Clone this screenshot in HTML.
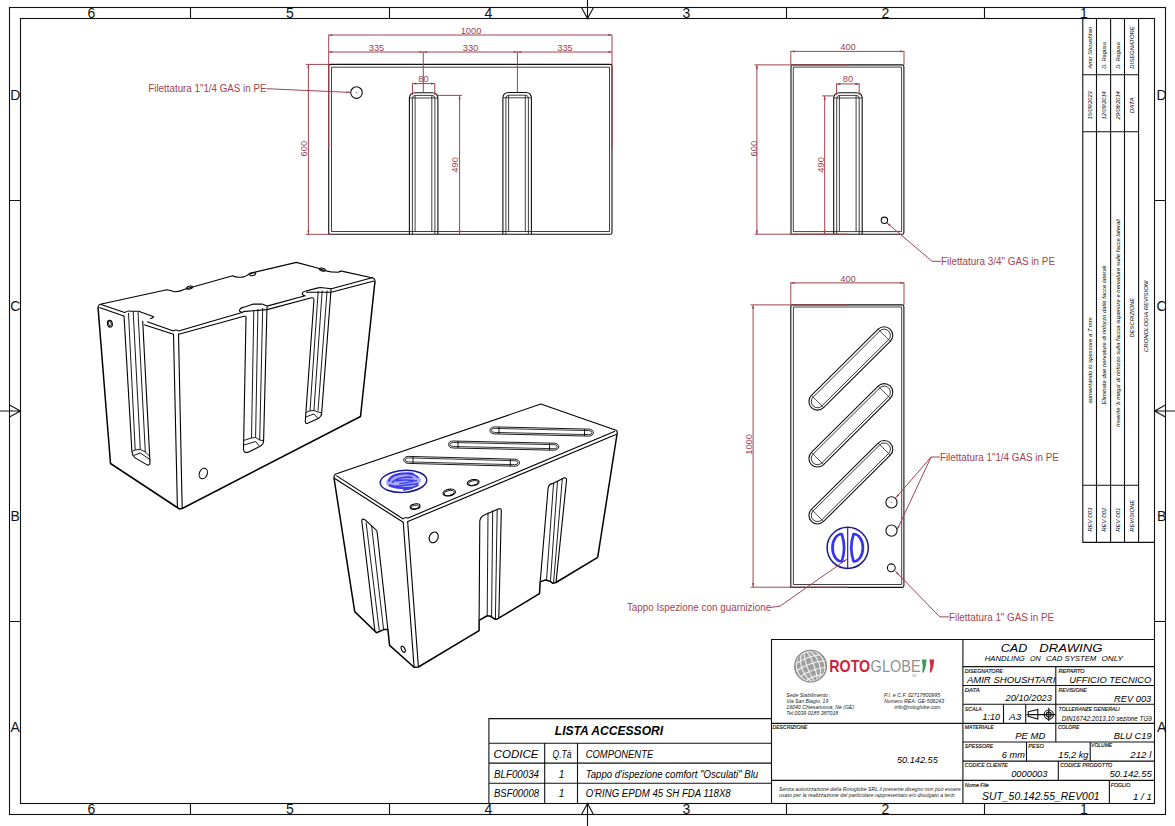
<!DOCTYPE html>
<html><head><meta charset="utf-8">
<style>
html,body{margin:0;padding:0;background:#fff;width:1175px;height:826px;overflow:hidden}
svg{display:block;font-family:"Liberation Sans",sans-serif}
.k{stroke:#111;fill:none;stroke-width:1.1}
.kt{stroke:#111;fill:none;stroke-width:0.8}
.r{stroke:#a0434f;fill:none;stroke-width:1}
.rt{fill:#a0434f;font-size:9.3px}
.zt{fill:#111;font-size:14px}
.it{font-style:italic;fill:#000}
.lb{font-style:italic;fill:#111;font-size:5.2px;stroke:#111;stroke-width:0.15}
</style></head><body>
<svg width="1175" height="826" viewBox="0 0 1175 826">
<!-- FRAME -->
<g id="frame" class="k" stroke-width="1.2">
<rect x="9.5" y="7.5" width="1156" height="807"/>
<rect x="20.5" y="18.5" width="1134" height="785"/>
<path d="M190.5 7.5V18.5M389.5 7.5V18.5M786.5 7.5V18.5M984.5 7.5V18.5"/>
<path d="M190.5 803.5V814.5M389.5 803.5V814.5M786.5 803.5V814.5M984.5 803.5V814.5"/>
<path d="M9.5 200.5H20.5M9.5 621.5H20.5M1154.5 200.5H1165.5M1154.5 621.5H1165.5"/>
<!-- centre arrows -->
<path d="M587.5 0V18.5M581.5 7.5L587.5 18.5L593.5 7.5"/>
<path d="M587.5 826V803.5M581.5 814.5L587.5 803.5L593.5 814.5"/>
<path d="M0 411H20.5M9.5 405L20.5 411L9.5 417"/>
<path d="M1175 411H1154.5M1165.5 405L1154.5 411L1165.5 417"/>
</g>
<g class="zt" text-anchor="middle">
<text x="91.5" y="17.5">6</text><text x="290" y="17.5">5</text><text x="488.5" y="17.5">4</text>
<text x="686.5" y="17.5">3</text><text x="885.5" y="17.5">2</text><text x="1084" y="17.5">1</text>
<text x="91.5" y="814.3">6</text><text x="290" y="814.3">5</text><text x="488.5" y="814.3">4</text>
<text x="686.5" y="814.3">3</text><text x="885.5" y="814.3">2</text><text x="1084" y="814.3">1</text>
<text x="15.2" y="100">D</text><text x="15.2" y="311">C</text><text x="15.2" y="521">B</text><text x="15.2" y="732">A</text>
<text x="1161.6" y="100">D</text><text x="1161.6" y="311">C</text><text x="1161.6" y="521">B</text><text x="1161.6" y="732">A</text>
</g>
<!-- FRONT VIEW -->
<defs>
<g id="vslot" class="k">
<path d="M0 141.8V6Q0 0.3 6 0.3H22.5Q28.5 0.3 28.5 6V141.8"/>
<path d="M3 141.8V6Q3 3 6 3H22.5Q25.5 3 25.5 6V141.8" stroke-width="0.8"/>
<path d="M5.7 3V139M22.4 3V139M0 5.6H28.5" stroke-width="0.8"/>
</g>
<path id="ah" d="M0 0L3.8 -1.1L3.8 1.1Z"/>
</defs>
<g id="front">
<path class="k" d="M328.7 234.3V66.2Q328.7 64.4 330.5 64.4H610.2Q612 64.4 612 66.2V232.5Q612 234.3 610.2 234.3Z"/>
<path class="kt" d="M331.5 231.5V67.2H609.5V231.5Z"/>
<use href="#vslot" x="409.4" y="92.4"/>
<use href="#vslot" x="502.9" y="92.2"/>
<circle class="k" cx="356.5" cy="92.6" r="5.8"/>
<circle cx="356.5" cy="92.6" r="0.5" fill="#333"/>
</g>
<g id="side">
<path class="k" d="M791 234.2V66.7Q791 64.9 792.8 64.9H902.1Q903.9 64.9 903.9 66.7V232.4Q903.9 234.2 902.1 234.2Z"/>
<path class="kt" d="M793.3 231.6V67.1H901.6V231.6Z"/>
<use href="#vslot" x="833.7" y="92.4"/>
<circle class="k" cx="884.4" cy="220.3" r="3.2"/>
</g>
<defs>
<g id="dslot" class="k" stroke-width="0.9">
<path d="M-47 -8.6H47A8.6 8.6 0 0 1 47 8.6H-47A8.6 8.6 0 0 1 -47 -8.6Z"/>
<path d="M-47 -6.2H47A6.2 6.2 0 0 1 47 6.2H-47A6.2 6.2 0 0 1 -47 -6.2Z" stroke-width="0.8"/>
<path d="M-47 -8.6V8.6M47 -8.6V8.6" stroke-width="0.7"/>
</g>
</defs>
<g id="topview">
<path class="k" d="M790.8 587.4V306.7Q790.8 304.9 792.6 304.9H902.1Q903.9 304.9 903.9 306.7V585.6Q903.9 587.4 902.1 587.4Z"/>
<path class="kt" d="M793.4 584.5V307H901.7V584.5Z"/>
<use href="#dslot" transform="translate(850.85 368.45) rotate(-44.8)"/>
<use href="#dslot" transform="translate(850.85 425.35) rotate(-44.8)"/>
<use href="#dslot" transform="translate(850.85 482.25) rotate(-44.8)"/>
<circle class="k" cx="891.5" cy="502.4" r="5.6"/>
<circle cx="891.5" cy="502.4" r="0.5" fill="#333"/>
<circle class="k" cx="891.5" cy="530.6" r="5.6"/>
<circle class="k" cx="891.3" cy="567.8" r="3.9"/>
<circle cx="847.7" cy="547.8" r="20.6" fill="none" stroke="#1b1b8f" stroke-width="1.5"/>
<path d="M847.7 527.2V568.4" stroke="#1b1b8f" stroke-width="1.1"/>
<path d="M841.8 534A9.3 13.7 0 0 0 841.8 561.4Q846.4 547.7 841.8 534Z M853.6 534A9.3 13.7 0 0 1 853.6 561.4Q849 547.7 853.6 534Z" fill="none" stroke="#3535ec" stroke-width="2.7" stroke-linejoin="round"/>
</g>
<!-- ISO BOX 1 -->
<g id="iso1" class="k" style="stroke-width:1.1;stroke:#000" stroke-linejoin="round">
<path d="M98 307Q98.5 304.5 100.3 304.2L166.8 289.7Q170 290 174.3 291.7Q179 292 184.6 289.2L232.8 275.7Q235 277.5 241 277.2Q246 277 249.7 273.4L296.4 262.4L319.4 268.5Q325 271.5 330.8 271.9L338.5 272.2Q340 271 341.6 271.1L373 278Q375 278.8 375 281"/>
<ellipse cx="189.5" cy="287.6" rx="3" ry="1.4" transform="rotate(-14 189.5 287.6)"/>
<ellipse cx="252.7" cy="274.2" rx="3" ry="1.4" transform="rotate(-14 252.7 274.2)"/>
<ellipse cx="322.4" cy="269.6" rx="3" ry="1.4" transform="rotate(12 322.4 269.6)"/>
<path style="stroke-width:1.5" d="M375 281L360.5 416.5L182.2 508.5"/>
<path style="stroke-width:1.5" d="M98 307L110.5 463.5L179.5 509L182.2 508.5"/>
<path d="M173.5 334L177.4 507M178.5 333.5L182.2 508.5M173.5 331Q176 329 178.5 331"/>
<!-- left face top edge -->
<path d="M100.3 304.2L124.6 312.6Q127 310.5 131.2 311.2L138.7 311.2L153.7 316.8Q153 318.5 149.9 318.7"/>
<path d="M99.4 307.5L123.7 315.9"/>
<path d="M147.2 321.7L173.5 331M144.1 324.7L173.5 334.3"/>
<!-- front right top edge -->
<path d="M178.5 331L242.8 312.2Q238.5 311.8 239.8 309.5Q240.8 307.9 243 307.4L253.4 304.1H262L267 306.1L305.1 295.7Q301.5 295 302.5 292.8Q303.5 291.2 306 291L317 288.1L320.3 287.5L331.4 288.7L373 277.5"/>
<path d="M178.8 334.3L244 316.3Q246.5 316 246 318.5M243 311.6L267 309.6L311.5 297.8Q313.8 297.6 314 299.5M306 292.2L331.2 292.3L374 281"/>
<!-- slot 1 (left face) -->
<path d="M124 315.5L131.9 451.3Q132.5 456.5 135.5 458.1L147.1 464.9Q150 465.5 150 462.4L142.7 321"/>
<path d="M128.5 313L135.2 450M133.2 311.5L140.3 449.5M138 312L145.3 452M132 451.5L135.2 450L140.3 449.5L145.3 452L149.6 456M133.5 455.5L140.3 453L149.8 459.5" stroke-width="0.9"/>
<!-- slot 2 -->
<path d="M246 318L243.5 449.5Q244 453 247.6 452.4L259.7 446.6Q263.6 444.5 263.6 440.8L267 306.8"/>
<path d="M253.8 310L251.5 438M257.9 309L255.6 437.5M262.7 308L259.7 440M244.2 440.3L251.5 438L255.6 437.5L259.7 440L263.6 440.8M243.9 445L255.6 441.5L259.7 446.6" stroke-width="0.9"/>
<!-- slot 3 -->
<path d="M314 299.5L305.3 421Q305.5 424 307.2 423.4L318.3 418.6Q321.7 416 321.7 412.8L331.1 288.6"/>
<path d="M318.2 291L310 410.8M322.2 290.5L313.9 410.8M327.1 290.5L318 410.8M306 412.5L310 410.8L313.9 410.5L318 412L321.7 412.8M305.7 417L313.9 414L318.3 418.6" stroke-width="0.9"/>
<ellipse cx="109.9" cy="323.7" rx="2.4" ry="3.4" transform="rotate(-10 109.9 323.7)"/>
<ellipse cx="109.9" cy="323.7" rx="1.3" ry="2.3" transform="rotate(-10 109.9 323.7)" stroke-width="0.8"/>
<ellipse cx="203.3" cy="473.5" rx="3.9" ry="5.4" transform="rotate(22 203.3 473.5)"/>
</g>
<!-- ISO BOX 2 -->
<g id="iso2" class="k" style="stroke-width:1.1;stroke:#000" stroke-linejoin="round">
<path d="M334 478Q333.8 474.5 336.5 473.8L540.8 404.1L616 430.2Q617.5 431 617.2 433"/>
<path d="M336.3 475.6L403.2 519M334 478L403.2 522.3M403.2 519Q405.5 516.5 407.6 518.2"/>
<path d="M407.6 518.2L615 431.2M407.8 521.6L616 434.5"/>
<path style="stroke-width:1.5" d="M617.2 433L597.7 557.3"/>
<path style="stroke-width:1.5" d="M334 478L354.7 611.6L376.5 632.8L383.6 629.6L387.9 629.6L389.6 645.4L414.1 667.2L418.4 667L479.1 630.7L479.1 620.3L486.7 616L490 616L494.9 619.2L497 619.2L539.5 593.6L540.2 581.7L545 580.1L549.7 580.9L552.8 583.3L556 582.5L597.7 557.3"/>
<path d="M403.2 522L414.1 667.2M407.6 521L418.4 667"/>
<!-- left slot -->
<path d="M374.9 631.3L361.8 521Q361.8 518.3 364.5 519.4L375.5 529.4Q377.5 531 377.3 533.5L387.9 629.6"/>
<path d="M366.1 522.5L379.2 630.2M371.6 526L383.6 629.6" stroke-width="0.9"/>
<!-- slot A -->
<path d="M479.1 620.3L479.8 521Q480.2 517 484.3 514.9L498.3 508.9Q501.6 507.8 501.3 511L498.8 618.3"/>
<path d="M488 512.5L487.2 616M492.7 510.5L491.6 616M497.2 509L495.4 619" stroke-width="0.9"/>
<!-- slot B -->
<path d="M540.2 581.7L548.1 488Q549 484 552.8 483.4L563.8 477.9Q567 477.5 566.5 480.5L556 582.5"/>
<path d="M553.6 483L546.5 580.3M557.5 481L550.5 580.5M562.3 479L553.6 582" stroke-width="0.9"/>
<!-- top stadiums -->
<g stroke-width="0.9">
<path d="M494.6 426.9L588.7 429.1A4.7 3.5 0 0 1 588.7 436.1L494.6 433.9A4.7 3.5 0 0 1 494.6 426.9Z"/>
<path d="M494.6 428.4L588.7 430.6A3.2 2 0 0 1 588.7 434.6L494.6 432.4A3.2 2 0 0 1 494.6 428.4Z" stroke-width="0.8"/>
<path d="M499 427V434M584.5 429V436" stroke-width="0.9"/>
<path d="M453.3 441L554.1 443.2A4.7 3.5 0 0 1 554.1 450.2L453.3 448A4.7 3.5 0 0 1 453.3 441Z"/>
<path d="M453.3 442.5L554.1 444.7A3.2 2 0 0 1 554.1 448.7L453.3 446.5A3.2 2 0 0 1 453.3 442.5Z" stroke-width="0.8"/>
<path d="M458 441V448M549.5 443V450.2" stroke-width="0.9"/>
<path d="M408.4 456.4L514.8 459.2A4.7 3.5 0 0 1 514.8 466.2L408.4 463.4A4.7 3.5 0 0 1 408.4 456.4Z"/>
<path d="M408.4 457.9L514.8 460.7A3.2 2 0 0 1 514.8 464.7L408.4 461.9A3.2 2 0 0 1 408.4 457.9Z" stroke-width="0.8"/>
<path d="M413 456.5V463.5M510.3 459.3V466.3" stroke-width="0.9"/>
</g>
<ellipse cx="415.1" cy="506.6" rx="5" ry="2.6" transform="rotate(-10 415.1 506.6)"/>
<ellipse cx="415.1" cy="507" rx="3.8" ry="1.8" transform="rotate(-10 415.1 507)" stroke-width="0.8"/>
<ellipse cx="449.2" cy="492.6" rx="6.3" ry="3.3" transform="rotate(-10 449.2 492.6)"/>
<ellipse cx="449.2" cy="493" rx="5" ry="2.4" transform="rotate(-10 449.2 493)" stroke-width="0.8"/>
<ellipse cx="473.2" cy="482.6" rx="6" ry="3" transform="rotate(-10 473.2 482.6)"/>
<ellipse cx="473.2" cy="483" rx="4.8" ry="2.2" transform="rotate(-10 473.2 483)" stroke-width="0.8"/>
<ellipse cx="433.7" cy="537.4" rx="4.3" ry="5.6" transform="rotate(25 433.7 537.4)"/>
<ellipse cx="403.2" cy="649.3" rx="1.7" ry="3.3" transform="rotate(-25 403.2 649.3)"/>
</g>
<g id="cap2">
<ellipse cx="403.5" cy="481.4" rx="23.3" ry="11" transform="rotate(-4 403.5 481.4)" fill="#fff" stroke="#1b1b8f" stroke-width="1.5"/>
<ellipse cx="403.5" cy="481.4" rx="17.5" ry="7.6" transform="rotate(-5 403.5 481.4)" fill="#a8a8f6"/>
<g transform="rotate(-8 403.5 481.4)" fill="none" stroke="#3a3aee" stroke-width="2.2">
<path d="M389 479.5Q391 472.5 404 473.5Q412 474 414.5 475.5M388.5 483Q398 488.5 411 489"/>
<path d="M392 481Q396 477.5 404 477.5Q410 477.5 413 479M393 485Q402 485.5 418 485.5M396 479.8Q405 479.5 414 482M402 490Q410 490 418 487M391 476Q395 474 400 474" stroke-width="1.6"/>
<path d="M399 483Q405 483.2 417 482.2M410 474.8Q416 475.5 418.5 479.8" stroke-width="1.4"/>
</g>
</g>
<!-- ACCESSORI TABLE -->
<g class="k" stroke-width="1.2">
<path d="M488.9 803.4V718.6H771.5M488.9 743.3H771.5M488.9 763.1H771.5M488.9 783.3H771.5M544.7 743.3V803.4M577.5 743.3V803.4"/>
</g>
<g class="it" font-size="10">
<text x="554.8" y="734.7" font-weight="bold" font-size="12.2" textLength="108.4" lengthAdjust="spacingAndGlyphs">LISTA ACCESSORI</text>
<text x="493.6" y="758.1" textLength="45" lengthAdjust="spacingAndGlyphs">CODICE</text>
<text x="552.5" y="758.1" textLength="19" lengthAdjust="spacingAndGlyphs">Q.Tà</text>
<text x="585.7" y="758.1" textLength="67.5" lengthAdjust="spacingAndGlyphs">COMPONENTE</text>
<text x="494" y="777.8" textLength="45" lengthAdjust="spacingAndGlyphs">BLF00034</text>
<text x="558.8" y="777.8">1</text>
<text x="585.7" y="777.8" textLength="172.5" lengthAdjust="spacingAndGlyphs">Tappo d'ispezione comfort "Osculati" Blu</text>
<text x="494" y="797.4" textLength="45" lengthAdjust="spacingAndGlyphs">BSF00008</text>
<text x="558.8" y="797.4">1</text>
<text x="585.7" y="797.4" textLength="145" lengthAdjust="spacingAndGlyphs">O'RING EPDM 45 SH FDA 118X8</text>
</g>
<!-- TITLE BLOCK -->
<g class="k" stroke-width="1.3">
<path d="M771.5 803.4V639.5H1154.5M771.5 723.4H1154.5M771.5 780.4H1154.5M962.9 639.5V803.4"/>
<path d="M962.9 666.6H1154.5M962.9 685.5H1154.5M962.9 704.3H1154.5M962.9 742H1154.5M962.9 761.1H1154.5"/>
<path d="M1055.8 666.6V741.9M1003.5 704.3V723.4M1025.7 704.3V723.4M1026.5 742V761.1M1090.2 742V761.1M1058.3 761.1V780.4M1109.4 780.4V803.4"/>
</g>
<!-- logo -->
<g id="logo">
<circle cx="810.6" cy="666.2" r="16.3" fill="#a0a0a0"/>
<g fill="none" stroke="#f2f2f2" stroke-width="1.1" transform="rotate(-20 810.6 666.2)">
<ellipse cx="810.6" cy="666.2" rx="3.5" ry="16.2"/>
<ellipse cx="810.6" cy="666.2" rx="9" ry="16.2"/>
<ellipse cx="810.6" cy="666.2" rx="14" ry="16.2"/>
<path d="M795 659.5Q810.6 655 826.2 659.5M794.3 666.2Q810.6 661.5 826.9 666.2M795 673Q810.6 668.5 826.2 673M798.5 679Q810.6 675 822.7 679M798.5 653.2Q810.6 649.5 822.7 653.2"/>
</g>
<circle cx="810.6" cy="666.2" r="15.8" fill="none" stroke="#8a8a8a" stroke-width="1.2"/>
<text x="829.3" y="672.3" font-size="17" font-weight="bold" fill="#cf1f3d" textLength="40.9" lengthAdjust="spacingAndGlyphs">ROTO</text>
<text x="870.6" y="672.3" font-size="17" fill="#8f8f8f" textLength="50" lengthAdjust="spacingAndGlyphs">GLOBE</text>
<path d="M921.8 659.5H926.6Q926.3 667 923.6 672.6H922.2Q923.6 666 921.8 659.5Z" fill="#3b9b50"/>
<path d="M929.4 659.5H934.2Q933.9 667 931.2 672.6H929.8Q931.2 666 929.4 659.5Z" fill="#d5283f"/>
<text x="912" y="676.5" font-size="2.6" fill="#999">SRL</text>
<g class="it" font-size="5.6" style="fill:#222">
<text x="786.3" y="697" textLength="44.5" lengthAdjust="spacingAndGlyphs">Sede Stabilimento :</text>
<text x="786.3" y="703" textLength="42" lengthAdjust="spacingAndGlyphs">Via San Biagio, 19</text>
<text x="786.3" y="709.2" textLength="68" lengthAdjust="spacingAndGlyphs">16040 Chiesanuova, Nè (GE)</text>
<text x="786.3" y="715.2" textLength="52" lengthAdjust="spacingAndGlyphs">Tel.0039 0185 387018</text>
<text x="884.1" y="697" textLength="56" lengthAdjust="spacingAndGlyphs">P.I. e C.F. 02717800995</text>
<text x="884.1" y="703" textLength="60" lengthAdjust="spacingAndGlyphs">Numero REA: GE-506243</text>
<text x="894.4" y="709.2" textLength="46" lengthAdjust="spacingAndGlyphs">info@rotoglobe.com</text>
</g>
</g>
<g class="lb">
<text x="772.5" y="729" textLength="35" lengthAdjust="spacingAndGlyphs">DESCRIZIONE</text>
<text x="964.8" y="672.8" textLength="38" lengthAdjust="spacingAndGlyphs">DISEGNATORE</text>
<text x="1058.6" y="672.8" textLength="26" lengthAdjust="spacingAndGlyphs">REPARTO</text>
<text x="964.8" y="691.5" textLength="15" lengthAdjust="spacingAndGlyphs">DATA</text>
<text x="1058.6" y="691.5" textLength="28" lengthAdjust="spacingAndGlyphs">REVISIONE</text>
<text x="964.8" y="710.7" textLength="17" lengthAdjust="spacingAndGlyphs">SCALA</text>
<text x="1058.6" y="711.4" textLength="61" lengthAdjust="spacingAndGlyphs">TOLLERANZE GENERALI</text>
<text x="964.8" y="729.2" textLength="29" lengthAdjust="spacingAndGlyphs">MATERIALE</text>
<text x="1057.9" y="729.2" textLength="21.5" lengthAdjust="spacingAndGlyphs">COLORE</text>
<text x="964.8" y="748" textLength="28.5" lengthAdjust="spacingAndGlyphs">SPESSORE</text>
<text x="1028.3" y="748" textLength="15.5" lengthAdjust="spacingAndGlyphs">PESO</text>
<text x="1091.1" y="747.4" textLength="21" lengthAdjust="spacingAndGlyphs">VOLUME</text>
<text x="964.8" y="766.9" textLength="43" lengthAdjust="spacingAndGlyphs">CODICE CLIENTE</text>
<text x="1060.2" y="766.9" textLength="52" lengthAdjust="spacingAndGlyphs">CODICE PRODOTTO</text>
<text x="964.8" y="786.9" textLength="24" lengthAdjust="spacingAndGlyphs" style="text-transform:none">Nome File</text>
<text x="1110.8" y="786.9" textLength="19.5" lengthAdjust="spacingAndGlyphs">FOGLIO</text>
</g>
<g class="it">
<text x="1000.7" y="651.5" font-size="11.6" textLength="26.7" lengthAdjust="spacingAndGlyphs">CAD</text><text x="1039.3" y="651.5" font-size="11.6" textLength="63.1" lengthAdjust="spacingAndGlyphs">DRAWING</text>
<text x="984.7" y="660.9" font-size="7.7" textLength="40.1" lengthAdjust="spacingAndGlyphs">HANDLING</text><text x="1030" y="660.9" font-size="7.7" textLength="10.8" lengthAdjust="spacingAndGlyphs">ON</text><text x="1046" y="660.9" font-size="7.7" textLength="50.3" lengthAdjust="spacingAndGlyphs">CAD SYSTEM</text><text x="1101.5" y="660.9" font-size="7.7" textLength="21.3" lengthAdjust="spacingAndGlyphs">ONLY</text>
<text x="966.9" y="682.9" font-size="9.6" textLength="88.4" lengthAdjust="spacingAndGlyphs">AMIR SHOUSHTARI</text>
<text x="1069.3" y="682.9" font-size="9.6" textLength="82" lengthAdjust="spacingAndGlyphs">UFFICIO TECNICO</text>
<text x="1005.6" y="700.7" font-size="9" textLength="46.2" lengthAdjust="spacingAndGlyphs">20/10/2023</text>
<text x="1114.1" y="701.5" font-size="9" textLength="37.2" lengthAdjust="spacingAndGlyphs">REV 003</text>
<text x="982.6" y="719.5" font-size="9" textLength="17.4" lengthAdjust="spacingAndGlyphs">1:10</text>
<text x="1009.1" y="719.5" font-size="9" textLength="12.2" lengthAdjust="spacingAndGlyphs">A3</text>
<text x="1061.8" y="720.6" font-size="6.6" textLength="90" lengthAdjust="spacingAndGlyphs">DIN16742:2013.10 sezione TG9</text>
<text x="1015.2" y="738.7" font-size="9" textLength="30.2" lengthAdjust="spacingAndGlyphs">PE MD</text>
<text x="1113.8" y="738.7" font-size="9" textLength="38" lengthAdjust="spacingAndGlyphs">BLU C19</text>
<text x="1001.8" y="758.4" font-size="9" textLength="23" lengthAdjust="spacingAndGlyphs">6 mm</text>
<text x="1058.3" y="758.4" font-size="9" textLength="30.2" lengthAdjust="spacingAndGlyphs">15,2 kg</text>
<text x="1130.3" y="758.4" font-size="9" textLength="21" lengthAdjust="spacingAndGlyphs">212 l</text>
<text x="1011.2" y="776.8" font-size="9" textLength="36.3" lengthAdjust="spacingAndGlyphs">0000003</text>
<text x="1109.4" y="776.8" font-size="9" textLength="42.4" lengthAdjust="spacingAndGlyphs">50.142.55</text>
<text x="896.9" y="763" font-size="9.6" textLength="40.9" lengthAdjust="spacingAndGlyphs">50.142.55</text>
<text x="982" y="800.3" font-size="10.6" textLength="117.5" lengthAdjust="spacingAndGlyphs">SUT_50.142.55_REV001</text>
<text x="1133" y="800.3" font-size="9" textLength="18.8" lengthAdjust="spacingAndGlyphs">1 / 1</text>
<text x="779" y="791.2" font-size="5.1" style="fill:#222" textLength="181.7" lengthAdjust="spacingAndGlyphs">Senza autorizzazione della Rotoglobe SRL il presente disegno non può essere</text>
<text x="779" y="796.8" font-size="5.1" style="fill:#222" textLength="177" lengthAdjust="spacingAndGlyphs">usato per la realizzazione del particolare rappresentato e/o divulgato a terzi.</text>
</g>
<!-- projection symbol -->
<g class="k" stroke-width="1">
<path d="M1028.3 711.8L1037.8 709.5V719.1L1028.3 716.4Z"/>
<path d="M1026.6 714.6H1055.7M1048.8 707.7V720.9"/>
<circle cx="1048.8" cy="714.6" r="4.6"/>
<circle cx="1048.8" cy="714.6" r="2.5"/>
</g>
<!-- REVISION STRIP -->
<g class="k" stroke-width="1.1">
<path d="M1082.8 18.5V542.4H1154.5M1096.5 18.5V542.4M1110.6 18.5V542.4M1124.5 18.5V542.4M1138.6 18.5V542.4"/>
<path d="M1082.8 74.7H1138.6M1082.8 131.8H1138.6M1082.8 485.3H1138.6"/>
</g>
<g class="it" font-size="6">
<text transform="translate(1092.3 68.7) rotate(-90)" textLength="41.7" lengthAdjust="spacingAndGlyphs">Amir Shoushtari</text>
<text transform="translate(1106.3 68.7) rotate(-90)" textLength="26.5" lengthAdjust="spacingAndGlyphs">D. Ragusa</text>
<text transform="translate(1120.2 68.7) rotate(-90)" textLength="26.5" lengthAdjust="spacingAndGlyphs">D. Ragusa</text>
<text transform="translate(1134.2 68.7) rotate(-90)" textLength="42.4" lengthAdjust="spacingAndGlyphs">DISEGNATORE</text>
<text transform="translate(1092.3 119.4) rotate(-90)" textLength="28" lengthAdjust="spacingAndGlyphs">15/09/2023</text>
<text transform="translate(1106.3 119.4) rotate(-90)" textLength="28" lengthAdjust="spacingAndGlyphs">12/09/2014</text>
<text transform="translate(1120.2 119.4) rotate(-90)" textLength="28" lengthAdjust="spacingAndGlyphs">29/08/2014</text>
<text transform="translate(1134.2 113.3) rotate(-90)" textLength="15.9" lengthAdjust="spacingAndGlyphs">DATA</text>
<text transform="translate(1092.3 403.5) rotate(-90)" textLength="86.2" lengthAdjust="spacingAndGlyphs">aumentando lo spessore a 7 mm</text>
<text transform="translate(1106.3 404.5) rotate(-90)" textLength="138.8" lengthAdjust="spacingAndGlyphs">Eliminate due nervature di rinforzo dalle facce laterali</text>
<text transform="translate(1120.2 426.9) rotate(-90)" textLength="207.8" lengthAdjust="spacingAndGlyphs">Inserite 'b mega' di rinforzo sulla faccia superiore e nervature sulle facce laterali</text>
<text transform="translate(1134.2 337.5) rotate(-90)" textLength="39.7" lengthAdjust="spacingAndGlyphs">DESCRIZIONE</text>
<text transform="translate(1148.4 352) rotate(-90)" textLength="71.7" lengthAdjust="spacingAndGlyphs">CRONOLOGIA REVISIONI</text>
<text transform="translate(1092.3 531.8) rotate(-90)" textLength="24.2" lengthAdjust="spacingAndGlyphs">REV 003</text>
<text transform="translate(1106.3 531.8) rotate(-90)" textLength="24.2" lengthAdjust="spacingAndGlyphs">REV 002</text>
<text transform="translate(1120.2 531.8) rotate(-90)" textLength="24.2" lengthAdjust="spacingAndGlyphs">REV 001</text>
<text transform="translate(1134.2 531.8) rotate(-90)" textLength="32" lengthAdjust="spacingAndGlyphs">REVISIONE</text>
</g>
<!-- leaders -->
<g class="r" stroke-width="0.9">
<path d="M266.5 88.7L350.3 92.4"/>
<path d="M887 223L932.1 261.3H941"/>
<path d="M940 457H931.1L896 497.6M931.1 457L897.3 529.3"/>
<path d="M895.4 571.3L939.8 616.9H949"/>
<path d="M771 607.4L780.1 606.1L846.8 559.3"/>
</g>
<g fill="#a0434f">
<use href="#ah" transform="translate(350.3 92.4) rotate(182.5)"/>
<use href="#ah" transform="translate(887 223) rotate(40.3)"/>
<use href="#ah" transform="translate(896 497.6) rotate(-49.2)"/>
<use href="#ah" transform="translate(897.3 529.3) rotate(-64.9)"/>
<use href="#ah" transform="translate(895.4 571.3) rotate(45.8)"/>
<use href="#ah" transform="translate(846.8 559.3) rotate(144.9)"/>
</g>
<g class="rt" style="font-size:10px">
<text x="148.3" y="92.2" textLength="118.2" lengthAdjust="spacingAndGlyphs">Filettatura 1"1/4 GAS in PE</text>
<text x="941" y="265" textLength="114" lengthAdjust="spacingAndGlyphs">Filettatura 3/4" GAS in PE</text>
<text x="939.9" y="460.8" textLength="119" lengthAdjust="spacingAndGlyphs">Filettatura 1"1/4 GAS in PE</text>
<text x="949" y="620.6" textLength="105" lengthAdjust="spacingAndGlyphs">Filettatura 1" GAS in PE</text>
<text x="626.9" y="610.7" textLength="144.3" lengthAdjust="spacingAndGlyphs">Tappo Ispezione con guarnizione</text>
</g>
<!-- dims front/side -->
<g class="r" stroke-width="0.9">
<path d="M328.7 34.7V149.4M612 34.7V149.4M328.7 35H612"/>
<path d="M328.7 52H612M423.3 52V92.7M517.4 52V92.3"/>
<path d="M412.4 83.2V95M434.8 83.2V95M412.4 83.6H434.8"/>
<path d="M306 64.4H328.7M306 234.3H331M308.4 64.4V234.3"/>
<path d="M437.9 95.4H462M459.6 95.4V234.2"/>
<path d="M790.8 51V64.9M904 51V64.9M790.8 51.4H904"/>
<path d="M836.6 83.5V95M859.2 83.5V95M836.6 83.9H859.2"/>
<path d="M754.5 64.9H848M754.5 234.2H848M756.9 64.9V234.2"/>
<path d="M822 95.9H833.7M824.7 95.9V234.2"/>
<path d="M790.8 282.5V304.9M904 282.5V304.9M790.8 282.9H904"/>
<path d="M750.5 304.9H848M750.5 587.2H848M753.1 304.9V587.2"/>
</g>
<g fill="#a0434f">
<use href="#ah" transform="translate(328.7 35)"/><use href="#ah" transform="translate(612 35) rotate(180)"/>
<use href="#ah" transform="translate(328.7 52)"/><use href="#ah" transform="translate(423.3 52) rotate(180)"/>
<use href="#ah" transform="translate(423.3 52)"/><use href="#ah" transform="translate(517.4 52) rotate(180)"/>
<use href="#ah" transform="translate(517.4 52)"/><use href="#ah" transform="translate(612 52) rotate(180)"/>
<use href="#ah" transform="translate(412.4 83.6)"/><use href="#ah" transform="translate(434.8 83.6) rotate(180)"/>
<use href="#ah" transform="translate(308.4 64.4) rotate(90)"/><use href="#ah" transform="translate(308.4 234.3) rotate(-90)"/>
<use href="#ah" transform="translate(459.6 95.4) rotate(90)"/><use href="#ah" transform="translate(459.6 234.2) rotate(-90)"/>
<use href="#ah" transform="translate(790.8 51.4)"/><use href="#ah" transform="translate(904 51.4) rotate(180)"/>
<use href="#ah" transform="translate(836.6 83.9)"/><use href="#ah" transform="translate(859.2 83.9) rotate(180)"/>
<use href="#ah" transform="translate(756.9 64.9) rotate(90)"/><use href="#ah" transform="translate(756.9 234.2) rotate(-90)"/>
<use href="#ah" transform="translate(824.7 95.9) rotate(90)"/><use href="#ah" transform="translate(824.7 234.2) rotate(-90)"/>
<use href="#ah" transform="translate(790.8 282.9)"/><use href="#ah" transform="translate(904 282.9) rotate(180)"/>
<use href="#ah" transform="translate(753.1 304.9) rotate(90)"/><use href="#ah" transform="translate(753.1 586.8) rotate(-90)"/>
</g>
<g class="rt" text-anchor="middle">
<text x="471" y="34">1000</text>
<text x="376.5" y="50.6">335</text><text x="470.5" y="50.6">330</text><text x="565" y="50.6">335</text>
<text x="423.5" y="82">80</text><text x="848" y="82">80</text>
<text x="848" y="49.6">400</text><text x="848" y="281.5">400</text>
<text transform="translate(307.4 148.7) rotate(-90)">600</text>
<text transform="translate(458.3 164.9) rotate(-90)">490</text>
<text transform="translate(756.6 148.7) rotate(-90)">600</text>
<text transform="translate(823.6 164.9) rotate(-90)">490</text>
<text transform="translate(752.3 444.4) rotate(-90)">1000</text>
</g>
</svg>
</body></html>
